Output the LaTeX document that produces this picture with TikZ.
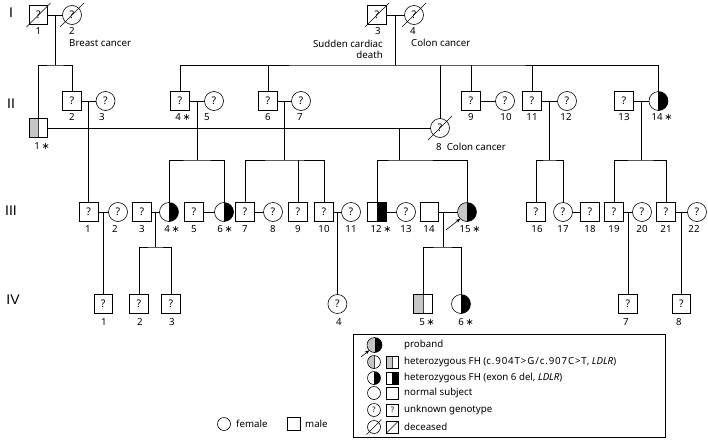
\documentclass[tikz,border=0pt]{standalone}
\usepackage{fontspec}
\setmainfont{Noto Sans}
\newfontfamily\dvs{DejaVu Sans}
\newfontfamily\lib{Liberation Sans}
\newcommand{\astk}{{\dvs\char"2217}}
\usetikzlibrary{calc,arrows.meta}
\begin{document}
\begin{tikzpicture}[x=1pt,y=-1pt,
  base/.style={draw=black, line width=0.6pt, inner sep=0pt, outer sep=0pt, font=\fontsize{10.5}{11}\selectfont},
  msq/.style={base, rectangle, minimum size=18.5pt},
  fci/.style={base, circle, minimum size=19pt},
  lsq/.style={base, rectangle, minimum size=12pt, font=\fontsize{7.5}{8}\selectfont},
  lci/.style={base, circle, minimum size=13pt, font=\fontsize{7.5}{8}\selectfont},
  rb/.style={path picture={\fill[black] (path picture bounding box.north) rectangle (path picture bounding box.south east); \draw[line width=0.6pt] (path picture bounding box.north) -- (path picture bounding box.south);}},
  lg/.style={path picture={\fill[gray!45] (path picture bounding box.north west) rectangle (path picture bounding box.south); \draw[line width=0.5pt, gray!50!black] (path picture bounding box.north) -- (path picture bounding box.south);}},
  pb/.style={path picture={\fill[gray!45] (path picture bounding box.north west) rectangle (path picture bounding box.south); \fill[black] (path picture bounding box.north) rectangle (path picture bounding box.south east);}},
  lbl/.style={font=\fontsize{9.7}{11}\selectfont, inner sep=0pt},
  gen/.style={font=\lib\fontsize{14}{15}\selectfont, inner sep=0pt},
  rel/.style={line width=0.6pt},
  arr/.style={rel, -{Stealth[length=4.5pt,width=3.5pt]}}
]
\path[use as bounding box] (0,0) rectangle (708,439);

% generation labels
\node[gen] (gI) at (11,13) {I};
\node[gen] (gII) at (11,104) {II};
\node[gen] (gIII) at (11,211) {III};
\node[gen] (gIV) at (13,300) {IV};

% Generation I
\node[msq] (I1) at (38.5,15) {?};
\node[fci] (I2) at (72,15) {?};
\node[msq] (I3) at (377,15) {?};
\node[fci] (I4) at (414,15) {?};

% Generation II
\node[msq, lg] (II1) at (38.5,128) {};
\node[msq] (II2) at (72,101) {?};
\node[fci] (II3) at (105.5,101) {?};
\node[msq] (II4) at (180,101) {?};
\node[fci] (II5) at (214,101) {?};
\node[msq] (II6) at (268,101) {?};
\node[fci] (II7) at (301,101) {?};
\node[fci] (II8) at (440,128) {?};
\node[msq] (II9) at (471,101) {?};
\node[fci] (II10) at (505,101) {?};
\node[msq] (II11) at (532,101) {?};
\node[fci] (II12) at (567,101) {?};
\node[msq] (II13) at (624,101) {?};
\node[fci, rb] (II14) at (658.5,101) {};

% Generation III
\node[msq] (III1) at (88.6,212) {?};
\node[fci] (III2) at (118,212) {?};
\node[msq] (III3) at (142,212) {?};
\node[fci, rb] (III4) at (169,212) {};
\node[msq] (III5) at (194,212) {?};
\node[fci, rb] (III6) at (224,212) {};
\node[msq] (III7) at (245,212) {?};
\node[fci] (III8) at (273,212) {?};
\node[msq] (III9) at (298,212) {?};
\node[msq] (III10) at (324,212) {?};
\node[fci] (III11) at (351,212) {?};
\node[msq, rb] (III12) at (377,212) {};
\node[fci] (III13) at (406,212) {?};
\node[msq] (III14) at (429.5,212) {};
\node[fci, pb] (III15) at (467,212) {};
\node[msq] (III16) at (536,212) {?};
\node[fci] (III17) at (563,212) {?};
\node[msq] (III18) at (590,212) {?};
\node[msq] (III19) at (614,212) {?};
\node[fci] (III20) at (642,212) {?};
\node[msq] (III21) at (666,212) {?};
\node[fci] (III22) at (697,212) {?};

% Generation IV
\node[msq] (IV1) at (103.2,304) {?};
\node[msq] (IV2) at (139,304) {?};
\node[msq] (IV3) at (171,304) {?};
\node[fci] (IV4) at (337.4,304) {?};
\node[msq, lg] (IV5) at (423,304) {};
\node[fci, rb] (IV6) at (461,304) {};
\node[msq] (IV7) at (627.9,304) {?};
\node[msq] (IV8) at (681.4,304) {?};

% deceased
\foreach \n in {I1,I2,I3,I4,II8} \draw[rel] ($(\n)+(-12,12)$) -- ($(\n)+(12,-12)$);

% ---- connectors Gen I
\draw[rel] (I1.east) -- (I2.west);
\coordinate (dI12) at ($(I1.east)!0.5!(I2.west)$);
\coordinate (sI12) at ($(dI12)+(0,50)$);
\draw[rel] (dI12) -- (sI12);
\draw[rel] (II1.north) |- (sI12) -| (II2.north);

\draw[rel] (I3.east) -- (I4.west);
\coordinate (dI34) at ($(I3.east)!0.5!(I4.west)$);
\coordinate (sI34) at ($(dI34)+(0,50)$);
\draw[rel] (dI34) -- (sI34);
\draw[rel] (II4.north) |- (sI34) -| (II14.north);
\foreach \n in {II6,II8,II9,II11} \draw[rel] (\n.north) -- (\n.north |- sI34);

% ---- connectors Gen II
\draw[rel] (II2.east) -- (II3.west);
\coordinate (dII23) at ($(II2.east)!0.5!(II3.west)$);
\draw[rel] (dII23) -- (dII23 |- III1.north);

\draw[rel] (II4.east) -- (II5.west);
\coordinate (dII45) at ($(II4.east)!0.5!(II5.west)$);
\coordinate (sII45) at ($(dII45)+(0,59)$);
\draw[rel] (dII45) -- (sII45);
\draw[rel] (III4.north) |- (sII45) -| (III6.north);

\draw[rel] (II6.east) -- (II7.west);
\coordinate (dII67) at ($(II6.east)!0.5!(II7.west)$);
\coordinate (sII67) at ($(dII67)+(0,59)$);
\draw[rel] (dII67) -- (sII67);
\draw[rel] (III7.north) |- (sII67) -| (III10.north);
\draw[rel] (III9.north) -- (III9.north |- sII67);

\draw[rel] (II1.east) -- (II8.west);
\coordinate (dII18) at (399,128);
\coordinate (sII18) at (399,160);
\draw[rel] (dII18) -- (sII18);
\draw[rel] (III12.north) |- (sII18) -| (III15.north);

\draw[rel] (II9.east) -- (II10.west);

\draw[rel] (II11.east) -- (II12.west);
\coordinate (dII1112) at ($(II11.east)!0.5!(II12.west)$);
\coordinate (sII1112) at ($(dII1112)+(0,59)$);
\draw[rel] (dII1112) -- (sII1112);
\draw[rel] (III16.north) |- (sII1112) -| (III17.north);

\draw[rel] (II13.east) -- (II14.west);
\coordinate (dII1314) at ($(II13.east)!0.5!(II14.west)$);
\coordinate (sII1314) at ($(dII1314)+(0,59)$);
\draw[rel] (dII1314) -- (sII1314);
\draw[rel] (III19.north) |- (sII1314) -| (III21.north);

% ---- connectors Gen III
\draw[rel] (III1.east) -- (III2.west);
\coordinate (dIII12) at ($(III1.east)!0.5!(III2.west)$);
\draw[rel] (dIII12) -- (dIII12 |- IV1.north);

\draw[rel] (III3.east) -- (III4.west);
\coordinate (dIII34) at ($(III3.east)!0.5!(III4.west)$);
\coordinate (sIII34) at ($(dIII34)+(0,35)$);
\draw[rel] (dIII34) -- (sIII34);
\draw[rel] (IV2.north) |- (sIII34) -| (IV3.north);

\draw[rel] (III5.east) -- (III6.west);
\draw[rel] (III7.east) -- (III8.west);

\draw[rel] (III10.east) -- (III11.west);
\coordinate (dIII1011) at ($(III10.east)!0.5!(III11.west)$);
\draw[rel] (dIII1011) -- (dIII1011 |- IV4.north);

\draw[rel] (III12.east) -- (III13.west);

\draw[rel] (III14.east) -- (III15.west);
\coordinate (dIII1415) at (443,212);
\coordinate (sIII1415) at (443,247);
\draw[rel] (dIII1415) -- (sIII1415);
\draw[rel] (IV5.north) |- (sIII1415) -| (IV6.north);

\draw[rel] (III17.east) -- (III18.west);

\draw[rel] (III19.east) -- (III20.west);
\coordinate (dIII1920) at ($(III19.east)!0.5!(III20.west)$);
\draw[rel] (dIII1920) -- (dIII1920 |- IV7.north);

\draw[rel] (III21.east) -- (III22.west);
\coordinate (dIII2122) at ($(III21.east)!0.5!(III22.west)$);
\draw[rel] (dIII2122) -- (dIII2122 |- IV8.north);

% proband arrow
\coordinate (pa) at (446,230);
\draw[arr] (pa) -- (III15.south west);

% ---- labels Gen I
\node[lbl] (lI1) at (38.5,31) {1};
\node[lbl] (lI2) at (72,31) {2};
\node[lbl] (lI3) at (378,31) {3};
\node[lbl] (lI4) at (413,31) {4};
\node[lbl, anchor=west] (tI2) at (69,43) {Breast cancer};
\node[lbl, anchor=east, align=right] (tI3) at (383,49) {Sudden cardiac\\[0pt]death};
\node[lbl, anchor=west] (tI4) at (411,43) {Colon cancer};

% labels Gen II
\node[lbl] (lII1) at (42,146) {1\,\astk};
\node[lbl] (lII2) at (72,117) {2};
\node[lbl] (lII3) at (102,117) {3};
\node[lbl] (lII4) at (183,117) {4\,\astk};
\node[lbl] (lII5) at (207,117) {5};
\node[lbl] (lII6) at (268,117) {6};
\node[lbl] (lII7) at (300,117) {7};
\node[lbl, anchor=west] (lII8) at (436,147) {8\ \ Colon cancer};
\node[lbl] (lII9) at (471,117) {9};
\node[lbl] (lII10) at (506,117) {10};
\node[lbl] (lII11) at (532,117) {11};
\node[lbl] (lII12) at (566,117) {12};
\node[lbl] (lII13) at (624,117) {13};
\node[lbl] (lII14) at (662,117) {14\,\astk};

% labels Gen III
\node[lbl] (lIII1) at (88,229) {1};
\node[lbl] (lIII2) at (115,229) {2};
\node[lbl] (lIII3) at (142,229) {3};
\node[lbl] (lIII4) at (172,229) {4\,\astk};
\node[lbl] (lIII5) at (194,229) {5};
\node[lbl] (lIII6) at (225,229) {6\,\astk};
\node[lbl] (lIII7) at (245,229) {7};
\node[lbl] (lIII8) at (273,229) {8};
\node[lbl] (lIII9) at (298,229) {9};
\node[lbl] (lIII10) at (324,229) {10};
\node[lbl] (lIII11) at (351,229) {11};
\node[lbl] (lIII12) at (381,229) {12\,\astk};
\node[lbl] (lIII13) at (406,229) {13};
\node[lbl] (lIII14) at (429,229) {14};
\node[lbl] (lIII15) at (470,229) {15\,\astk};
\node[lbl] (lIII16) at (537,229) {16};
\node[lbl] (lIII17) at (563,229) {17};
\node[lbl] (lIII18) at (590,229) {18};
\node[lbl] (lIII19) at (614,229) {19};
\node[lbl] (lIII20) at (642,229) {20};
\node[lbl] (lIII21) at (666,229) {21};
\node[lbl] (lIII22) at (694,229) {22};

% labels Gen IV
\node[lbl] (lIV1) at (104,322) {1};
\node[lbl] (lIV2) at (140,322) {2};
\node[lbl] (lIV3) at (172,322) {3};
\node[lbl] (lIV4) at (339,322) {4};
\node[lbl] (lIV5) at (427,322) {5\,\astk};
\node[lbl] (lIV6) at (466,322) {6\,\astk};
\node[lbl] (lIV7) at (626,322) {7};
\node[lbl] (lIV8) at (679,322) {8};

% ---- legend box
\node[draw, line width=0.6pt, minimum width=312pt, minimum height=103pt, inner sep=0pt, anchor=north west] (legbox) at (353,334) {};
\node[lci, pb, minimum size=15pt] (Lp) at (374.5,345) {};
\coordinate (Lpa) at (361,357);
\draw[arr] (Lpa) -- (Lp.south west);
\node[lbl, anchor=west] (Ltp) at (404,345) {proband};

\node[lci, lg] (Lc2) at (374,362) {};
\node[lsq, lg] (Ls2) at (392.5,362) {};
\node[lbl, anchor=west] (Lt2) at (404,362) {heterozygous FH ({\addfontfeature{LetterSpace=9}c.904T>G/c.907C>T}, \textit{LDLR})};

\node[lci, rb] (Lc3) at (374,378) {};
\node[lsq, rb] (Ls3) at (392.5,378) {};
\node[lbl, anchor=west] (Lt3) at (404,378) {heterozygous FH (exon 6 del, \textit{LDLR})};

\node[lci] (Lc4) at (374,393) {};
\node[lsq] (Ls4) at (392.5,393) {};
\node[lbl, anchor=west] (Lt4) at (404,393) {normal subject};

\node[lci] (Lc5) at (374,410) {?};
\node[lsq] (Ls5) at (392.5,410) {?};
\node[lbl, anchor=west] (Lt5) at (404,410) {unknown genotype};

\node[lci] (Lc6) at (374,427) {};
\node[lsq] (Ls6) at (392.5,427) {};
\draw[rel] ($(Lc6)+(-7.5,7.5)$) -- ($(Lc6)+(7.5,-7.5)$);
\draw[rel] (Ls6.south west) -- (Ls6.north east);
\node[lbl, anchor=west] (Lt6) at (404,427) {deceased};

% female / male
\node[lci] (Lf) at (224,424) {};
\node[lbl, anchor=west] (Ltf) at (236,424) {female};
\node[lsq, minimum size=13pt] (Lm) at (294,424) {};
\node[lbl, anchor=west] (Ltm) at (305,424) {male};
\end{tikzpicture}
\end{document}
